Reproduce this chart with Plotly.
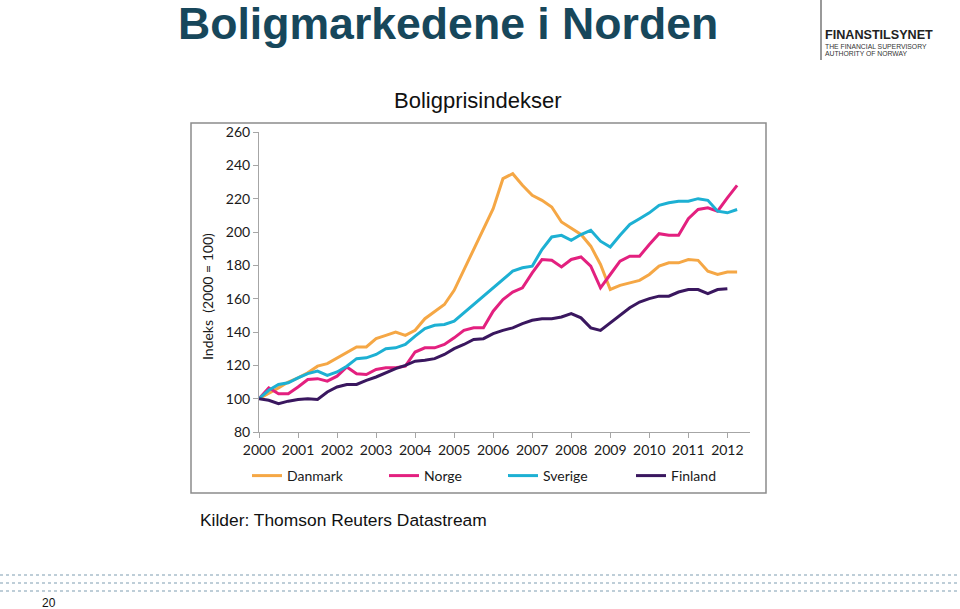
import plotly.graph_objects as go

# ---------------- data (quarterly, 2000Q1 .. ) ----------------
year_ticks = [2000, 2001, 2002, 2003, 2004, 2005, 2006, 2007, 2008, 2009, 2010, 2011, 2012]
tick_labels = [str(y) for y in year_ticks]

danmark = [100, 103, 106.5, 110,
           112.5, 115.5, 119.5, 121,
           124.5, 128, 131, 131,
           136, 138, 140, 138,
           141, 148, 152, 156.5,
           165, 177, 190, 201,
           214, 232, 235, 228,
           222, 219, 215, 206,
           202.5, 198.5, 191.5, 180.5,
           165.5, 168, 169.5, 171,
           174.5, 179.5, 181.5, 181.5,
           183.5, 183, 176.5, 174.5,
           176, 176]

norge = [100, 106.5, 103, 103,
         107, 111.5, 112, 110.5,
         113.5, 119, 115, 114.5,
         117.5, 118.5, 118.5, 119.5,
         128, 130.5, 130.5, 132.5,
         136.5, 141, 142.5, 142.5,
         152.5, 159.5, 164, 166.5,
         175.5, 183.5, 183, 179,
         183.5, 185, 179.5, 166.5,
         174.5, 182.5, 185.5, 185.5,
         192.5, 199, 198, 198,
         208, 213.5, 214.5, 212.5,
         220.5, 228]

sverige = [100, 105, 108.5, 109.5,
           112.5, 115, 116.5, 114,
           116, 119.5, 124, 124.5,
           126.5, 130, 130.5, 132.5,
           137.5, 142, 144, 144.5,
           146.5, 151.5, 157, 161.5,
           166.5, 171.5, 176.5, 178.5,
           179.5, 189.5, 197, 198,
           195, 198.5, 201, 194.5,
           191, 198, 204.5, 208,
           211.5, 216, 217.5, 218.5,
           218.5, 220, 219, 212.5,
           211.5, 213.5]

finland = [100, 99, 97, 98.5,
           99.5, 100, 99.5, 104,
           107, 108.5, 108.5, 111,
           113, 115.5, 118, 120,
           122.5, 123, 124, 126.5,
           130, 132.5, 135.5, 136,
           139, 141, 142.5, 145,
           147, 148, 148, 149,
           151, 148.5, 142.5, 141,
           145.5, 150, 154.5, 158,
           160, 161.5, 161.5, 164,
           165.5, 165.5, 163, 165.5,
           166]

series_names = ["Danmark", "Norge", "Sverige", "Finland"]
series_values = [danmark, norge, sverige, finland]
series_colors = ["#F5A745", "#E3207F", "#1DB0D3", "#3A175F"]


def quarters(n):
    return [2000 + i / 4 for i in range(n)]


# ---------------- layout geometry ----------------
W, H = 960, 609
PL, PR, PT, PB = 259, 750, 132, 432  # plot area in pixels


def px(x):
    return (x - PL) / (PR - PL)


def py(y):
    return (PB - y) / (PB - PT)


legend_ids = ["legend", "legend2", "legend3", "legend4"]
legend_x = [247, 384, 503, 631]
legend_font = dict(family="Lato, Open Sans, sans-serif", size=14, color="#1a1a1a")

fig = go.Figure()
for name, vals, col, lid in zip(series_names, series_values, series_colors, legend_ids):
    fig.add_trace(go.Scatter(
        x=quarters(len(vals)), y=vals, name=name, mode="lines",
        line=dict(color=col, width=3), cliponaxis=False, legend=lid,
    ))

tick_font = dict(family="Lato, Open Sans, sans-serif", size=14, color="#1a1a1a")

legend_layout = {}
for lid, lx in zip(legend_ids, legend_x):
    legend_layout[lid] = dict(
        orientation="h", x=px(lx), y=py(476), xanchor="left", yanchor="middle",
        font=legend_font, itemwidth=30, bgcolor="rgba(0,0,0,0)",
    )

fig.update_layout(
    width=W, height=H,
    margin=dict(l=PL, r=W - PR, t=PT, b=H - PB, pad=0),
    paper_bgcolor="white", plot_bgcolor="white",
    showlegend=True,
    xaxis=dict(
        range=[2000, 2012.58], tickvals=year_ticks, ticktext=tick_labels,
        showgrid=False, zeroline=False, showline=True, linecolor="#a6a6a6", linewidth=1,
        ticks="outside", ticklen=5, tickcolor="#a6a6a6", tickfont=tick_font,
        fixedrange=True,
    ),
    yaxis=dict(
        range=[80, 260], dtick=20, tick0=80,
        showgrid=False, zeroline=False, showline=True, linecolor="#a6a6a6", linewidth=1,
        ticks="outside", ticklen=5, tickcolor="#a6a6a6", tickfont=tick_font,
        fixedrange=True,
    ),
    **legend_layout,
)

# chart frame
fig.add_shape(type="rect", xref="paper", yref="paper",
              x0=px(191), x1=px(766), y0=py(493), y1=py(123),
              line=dict(color="#8c8c8c", width=1.5), fillcolor="rgba(0,0,0,0)", layer="below")

# y-axis title
fig.add_annotation(text="Indeks  (2000 = 100)", xref="paper", yref="paper",
                   x=px(207), y=py(297), textangle=-90, showarrow=False,
                   xanchor="center", yanchor="middle",
                   font=dict(family="Lato, Open Sans, sans-serif", size=14, color="#1a1a1a"))

# main title
fig.add_annotation(text="<b>Boligmarkedene i Norden</b>", xref="paper", yref="paper",
                   x=px(176), y=py(23), showarrow=False, xanchor="left", yanchor="middle",
                   font=dict(family="Liberation Sans, Arial, sans-serif", size=44.6, color="#17475B"))

# subtitle
fig.add_annotation(text="Boligprisindekser", xref="paper", yref="paper",
                   x=px(478), y=py(100), showarrow=False, xanchor="center", yanchor="middle",
                   font=dict(family="Liberation Sans, Arial, sans-serif", size=22, color="#111111"))

# source
fig.add_annotation(text="Kilder: Thomson Reuters Datastream", xref="paper", yref="paper",
                   x=px(198), y=py(520), showarrow=False, xanchor="left", yanchor="middle",
                   font=dict(family="Liberation Sans, Arial, sans-serif", size=17.4, color="#111111"))

# logo
fig.add_shape(type="line", xref="paper", yref="paper", x0=px(821), x1=px(821),
              y0=py(0), y1=py(60), line=dict(color="#777777", width=1.5))
fig.add_annotation(text="<b>FINANSTILSYNET</b>", xref="paper", yref="paper",
                   x=px(823), y=py(35), showarrow=False, xanchor="left", yanchor="middle",
                   font=dict(family="Liberation Sans, Arial, sans-serif", size=12.6, color="#222222"))
fig.add_annotation(text="THE FINANCIAL SUPERVISORY", xref="paper", yref="paper",
                   x=px(823), y=py(46), showarrow=False, xanchor="left", yanchor="middle",
                   font=dict(family="Liberation Sans, Arial, sans-serif", size=6.8, color="#333333"))
fig.add_annotation(text="AUTHORITY OF NORWAY", xref="paper", yref="paper",
                   x=px(823), y=py(53.5), showarrow=False, xanchor="left", yanchor="middle",
                   font=dict(family="Liberation Sans, Arial, sans-serif", size=6.8, color="#333333"))

# dotted footer band
for yy in (575, 583, 591):
    fig.add_shape(type="line", xref="paper", yref="paper", x0=px(0), x1=px(960),
                  y0=py(yy), y1=py(yy), line=dict(color="#a9bfcc", width=1.5, dash="dot"))

# page number
fig.add_annotation(text="20", xref="paper", yref="paper",
                   x=px(49), y=py(603), showarrow=False, xanchor="center", yanchor="middle",
                   font=dict(family="Liberation Sans, Arial, sans-serif", size=12, color="#111111"))

fig.write_html("out.html", config={"displayModeBar": False},
               post_script="document.body.style.margin='0px';document.body.style.overflow='hidden';")
